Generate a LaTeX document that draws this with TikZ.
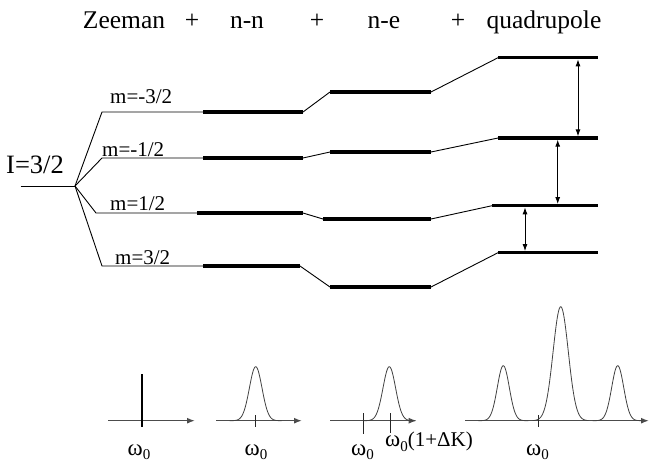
\documentclass[tikz,border=0pt]{standalone}
\usepackage{fontspec}
\setmainfont{Liberation Serif}
\usetikzlibrary{arrows.meta}
\newcommand\gpeak[4]{\draw[peak] plot[domain=-#4:#4,samples=90,smooth] ({#1+\x},{420.7-#2*exp(-(\x*\x)/(2*#3*#3))});}
\newcommand\wz{{\fontsize{23}{25}\selectfont ω}\raisebox{-4.5pt}{\fontsize{15}{15}\selectfont 0}}
\begin{document}
\begin{tikzpicture}[x=1pt,y=-1pt,
  thinl/.style={line width=0.9pt},
  level/.style={line width=3.5pt},
  gap/.style={line width=1pt,{Latex[length=7pt,width=5pt]}-{Latex[length=7pt,width=5pt]},shorten <=1.6pt,shorten >=1.6pt},
  axis/.style={line width=1.4pt,draw=black!70,-{Latex[length=8pt,width=6pt]}},
  tick/.style={line width=1pt,draw=black!85},
  peak/.style={line width=0.8pt,draw=black!75},
  toplbl/.style={font=\fontsize{25.5}{30}\selectfont,anchor=base,inner sep=0pt},
  mlbl/.style={font=\fontsize{21}{24}\selectfont,anchor=base west,inner sep=0pt},
  wlbl/.style={font=\fontsize{21}{25}\selectfont,anchor=base,inner sep=0pt},
]
\useasboundingbox (0,0) rectangle (650,459);
% top labels
\node[toplbl] (zee) at (124,28) {Zeeman};
\node[toplbl] (p1) at (192,28) {+};
\node[toplbl] (nn) at (247,28) {n-n};
\node[toplbl] (p2) at (317,28) {+};
\node[toplbl] (ne) at (384,28) {n-e};
\node[toplbl] (p3) at (458,28) {+};
\node[toplbl] (quad) at (544,28) {quadrupole};
% spin label
\node[font=\fontsize{26.5}{30}\selectfont,anchor=base west,inner sep=0pt] (spin) at (6,173) {I=3/2};
% coordinates
\coordinate (I0) at (20.7,186);
\coordinate (O) at (75,186);
\coordinate (zA) at (102,112); \coordinate (zB) at (102,158);
\coordinate (zC) at (96,213);  \coordinate (zD) at (102,266);
\coordinate (nA0) at (203,112); \coordinate (nA1) at (303,112);
\coordinate (nB0) at (203,158); \coordinate (nB1) at (303,158);
\coordinate (nC0) at (197,213); \coordinate (nC1) at (303,213);
\coordinate (nD0) at (203,266); \coordinate (nD1) at (300,266);
\coordinate (eA0) at (330,92);  \coordinate (eA1) at (431,92);
\coordinate (eB0) at (330,152); \coordinate (eB1) at (431,152);
\coordinate (eC0) at (323,219); \coordinate (eC1) at (431,219);
\coordinate (eD0) at (330,287); \coordinate (eD1) at (431,287);
\coordinate (qA0) at (498,57.7);  \coordinate (qA1) at (598,57.7);
\coordinate (qB0) at (498,138);   \coordinate (qB1) at (598,138);
\coordinate (qC0) at (492,205.7); \coordinate (qC1) at (598,205.7);
\coordinate (qD0) at (498,252.7); \coordinate (qD1) at (598,252.7);
% m labels
\node[mlbl] (mA) at (110,103) {m=-3/2};
\node[mlbl] (mB) at (102,156.5) {m=-1/2};
\node[mlbl] (mC) at (110,210.5) {m=1/2};
\node[mlbl] (mD) at (115,264) {m=3/2};
% thin lines
\draw[thinl] (I0) -- (O);
\foreach \L in {A,B,C,D}{
  \draw[thinl] (O) -- (z\L) -- (n\L0);
  \draw[thinl] (n\L1) -- (e\L0);
  \draw[thinl] (e\L1) -- (q\L0);
  \draw[level] (n\L0) -- (n\L1);
  \draw[level] (e\L0) -- (e\L1);
  \draw[level] (q\L0) -- (q\L1);
}
% transition arrows
\coordinate (t1a) at (578,57.7);  \coordinate (t1b) at (578,138);
\coordinate (t2a) at (557.7,138); \coordinate (t2b) at (557.7,205.7);
\coordinate (t3a) at (525,205.7); \coordinate (t3b) at (525,252.7);
\draw[gap] (t1a) -- (t1b);
\draw[gap] (t2a) -- (t2b);
\draw[gap] (t3a) -- (t3b);
% spectra
\coordinate (s1a) at (108,420.7); \coordinate (s1b) at (195,420.7);
\coordinate (s2a) at (216,420.7); \coordinate (s2b) at (302,420.7);
\coordinate (s3a) at (330,420.7); \coordinate (s3b) at (416.7,420.7);
\coordinate (s4a) at (465,420.7); \coordinate (s4b) at (649,420.7);
\draw[axis] (s1a) -- (s1b);
\draw[axis] (s2a) -- (s2b);
\draw[axis] (s3a) -- (s3b);
\draw[axis] (s4a) -- (s4b);
\coordinate (d1) at (141.7,374); \coordinate (d2) at (141.7,426.5);
\draw[line width=2pt] (d1) -- (d2);
\coordinate (k2a) at (255.7,415); \coordinate (k2b) at (255.7,427);
\coordinate (k3a) at (363,413); \coordinate (k3b) at (363,434);
\coordinate (k4a) at (390,413); \coordinate (k4b) at (390,433);
\coordinate (k5a) at (538,415); \coordinate (k5b) at (538,427);
\draw[tick] (k2a) -- (k2b);
\draw[tick] (k3a) -- (k3b);
\draw[tick] (k4a) -- (k4b);
\draw[tick] (k5a) -- (k5b);
\gpeak{255.7}{54}{6.3}{26}
\gpeak{389.3}{54}{6.3}{26}
\gpeak{503.3}{55}{6}{25}
\gpeak{560.7}{114}{7.6}{28}
\gpeak{617.7}{55}{6}{25}
\node[wlbl] (w1) at (139,455) {\wz};
\node[wlbl] (w2) at (256,455) {\wz};
\node[wlbl] (w3) at (362.5,455) {\wz};
\node[wlbl,anchor=base west] (w4) at (385,446.5) {\wz(1+ΔK)};
\node[wlbl] (w5) at (537.5,455) {\wz};
\end{tikzpicture}
\end{document}
